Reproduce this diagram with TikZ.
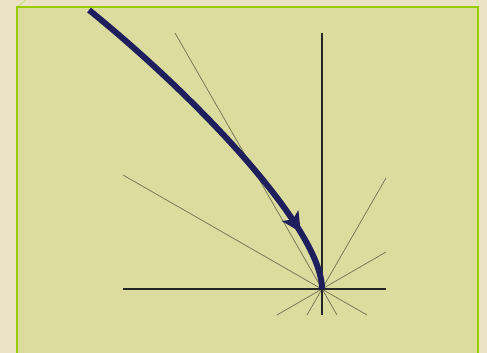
\documentclass[tikz,border=0pt]{standalone}
\usetikzlibrary{arrows.meta,decorations.markings}
\definecolor{bgbeige}{HTML}{ECE2C6}
\definecolor{panel}{HTML}{DCDC9E}
\definecolor{frame}{HTML}{99CC00}
\definecolor{navy}{HTML}{1F1F5E}
\definecolor{ray}{HTML}{707052}
\begin{document}
\begin{tikzpicture}[x=1pt,y=-1pt,
  axis/.style={line width=1.3pt,black!85},
  rayline/.style={line width=0.7pt,ray},
  pathcurve/.style={line width=6pt,navy,
    postaction={decorate,decoration={markings,mark=at position 0.81 with {\fill[navy] (9pt,0pt) -- (-11pt,-10pt) -- (-6pt,0pt) -- (-11pt,10pt) -- cycle;}}}}]
\useasboundingbox (0,0) rectangle (487,353);
\fill[bgbeige] (0,0) rectangle (487,353);
\fill[panel] (17,7) rectangle (478,356);
\draw[frame!60,line width=0.8pt] (17,7) -- (27,-1);
\draw[frame!40,line width=0.8pt] (477,0) -- (477,7);
\draw[frame,line width=2pt] (17,356) -- (17,7) -- (478,7) -- (478,356);
\coordinate (O) at (322,289);
\coordinate (r1a) at (175,33);  \coordinate (r1b) at (337,315);
\coordinate (r2a) at (123,175); \coordinate (r2b) at (367,315);
\coordinate (r3a) at (386,178); \coordinate (r3b) at (307,315);
\coordinate (r4a) at (386,252); \coordinate (r4b) at (277,315);
\draw[rayline] (r1a) -- (r1b);
\draw[rayline] (r2a) -- (r2b);
\draw[rayline] (r3a) -- (r3b);
\draw[rayline] (r4a) -- (r4b);
\coordinate (hl) at (123,289); \coordinate (hr) at (386,289);
\coordinate (vt) at (322,33);  \coordinate (vb) at (322,315);
\draw[axis] (hl) -- (hr);
\draw[axis] (vt) -- (vb);
\coordinate (s) at (89,10);
\draw[pathcurve] (s) .. controls (200,100) and (322,230) .. (O);
\end{tikzpicture}
\end{document}
